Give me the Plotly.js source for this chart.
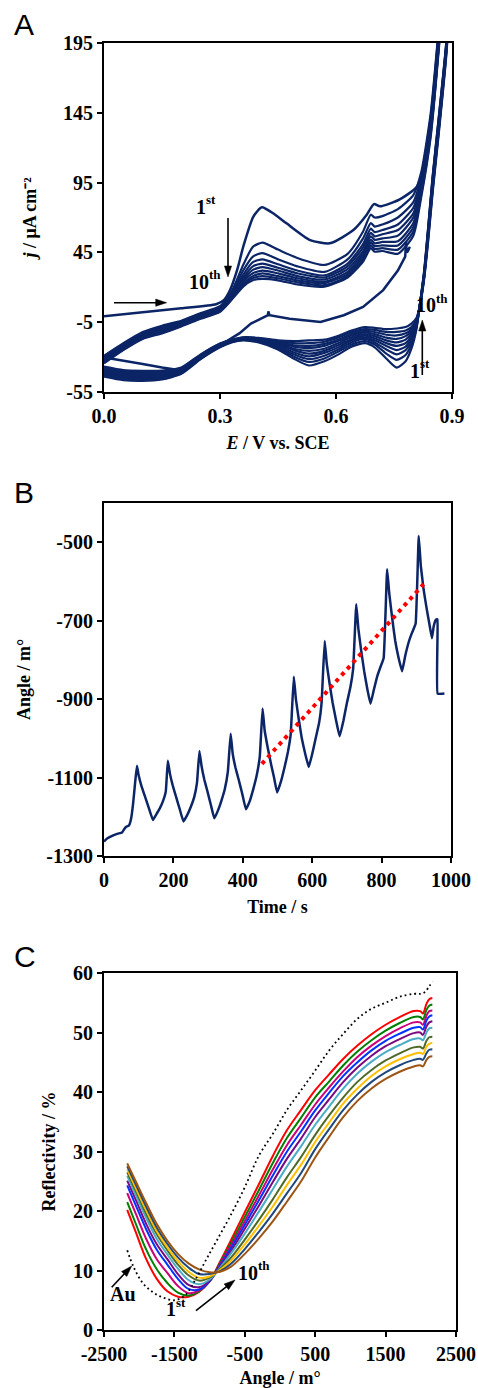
<!DOCTYPE html>
<html><head><meta charset="utf-8">
<script src="https://cdn.plot.ly/plotly-3.0.1.min.js"></script>
<style>html,body{margin:0;padding:0;background:#fff}#chart{width:478px;height:1388px}</style>
</head><body><div id="chart"></div>
<script>
// ---------- Panel A : cyclic voltammograms ----------
const cv1E = [0,0.1,0.2,0.29,0.31,0.326,0.345,0.36,0.386,0.408,0.44,0.472,0.533,0.584,0.645,0.679,0.698,0.714,0.765,0.809,0.83,0.85,0.866,0.88];
const cv1J = [-0.7,2.2,5.0,7.9,10.8,18,33,49,70.5,77.3,72.5,65.8,53.8,51.5,61,71.8,79.6,78,83,92,110,145,195,235];

const anodicE = [0,0.05,0.1,0.15,0.2,0.25,0.3,0.33,0.36,0.385,0.41,0.45,0.5,0.57,0.63,0.67,0.69,0.70,0.72,0.76,0.8,0.82,0.845,0.87];
const anodicJ = [
 [-29,-20,-12,-7.5,-4,1.5,6.5,17,36,49,52,47,41,36,44,60,72,70,71,76,86,102,145,220],
 [-30,-21,-13,-8.2,-4.5,1,6,15.5,32,42,44.5,40,35,31,40,55,66,63.5,65,70,81,99,142,218],
 [-31,-22,-14,-8.9,-5,0.5,5.5,14.5,29,38,40,36.5,32,28.5,37,51,62,59.5,61,65,77,96,140,216],
 [-32,-22.5,-14.5,-9.6,-5.5,0,5,13.5,27,35,37,34,30,27,35,48.5,59,56.5,58,61,73,94,138,214],
 [-32.5,-23,-15,-10.3,-6,-0.5,4.5,13,25.5,32.5,34.5,32,28,25.5,33,46,56.5,54,55,57,70,92,136,212],
 [-33,-23.5,-15.5,-11,-6.5,-1,4,12.5,24,30,32,30,26.5,24,31,44,54,51.5,52.5,53,66,90,134,210],
 [-33.5,-24,-16,-11.7,-7,-1.5,3.5,12,22.5,28,30,28,25,23,29.5,42,52,49.5,50,50,63,88,132,208],
 [-34,-24.5,-16.5,-12.4,-7.5,-2,3,11.5,21.5,26.5,28,26.5,23.5,21.5,28,40,50,47.5,48,47,60,86,130,206],
 [-34.5,-25,-17,-13,-8,-2.5,2.5,11,20.5,25,26,25,22,20.5,27,38.5,48,45.5,46,44,57,84,128,204]
];

const cathodicE = [0.9,0.885,0.865,0.85,0.838,0.828,0.818,0.808,0.795,0.78,0.757,0.73,0.70,0.675,0.64,0.61,0.57,0.53,0.49,0.45,0.40,0.36,0.33,0.30,0.25,0.20,0.15,0.10,0.05,0];
const cathodicJ = [
 [260,195,140,100,62,32,10,-10,-24,-33,-37.5,-31,-23,-20,-22.5,-27.5,-33,-36,-31,-24.5,-19.5,-18,-19.5,-23,-31.5,-42,-46,-47,-46.5,-44],
 [259,194,139,99,61,31,10,-9,-21,-28.5,-32,-27.5,-21,-18.5,-21,-25.5,-31,-33.5,-29.5,-23.5,-19,-17.6,-19.2,-22.6,-31,-41.5,-45.3,-46.2,-45.7,-43.2],
 [258,193,138,98,60,30,10,-8,-18.5,-25,-28,-24.5,-19.5,-17,-19.5,-24,-29,-31.5,-28,-22.5,-18.5,-17.3,-19,-22.2,-30.5,-41,-44.6,-45.4,-44.9,-42.4],
 [257,192,136,96,59,30,9.5,-7,-16.5,-22.5,-25,-22,-18,-15.8,-18,-22.5,-27,-29.5,-26.5,-21.5,-18,-17,-18.8,-21.8,-30,-40.5,-43.9,-44.6,-44.1,-41.6],
 [256,191,135,95,58,29,9.5,-6.5,-15,-20,-22,-20,-16.5,-14.6,-17,-21,-25.5,-27.5,-25,-20.5,-17.5,-16.8,-18.6,-21.5,-29.6,-40,-43.2,-43.8,-43.3,-40.8],
 [255,190,134,94,57,28.5,9,-6,-13,-17.5,-19.5,-18,-15,-13.5,-15.8,-19.5,-24,-25.5,-24,-20,-17.2,-16.6,-18.4,-21.2,-29.3,-39.5,-42.5,-43,-42.5,-40],
 [254,189,132,92,56,28,9,-5,-11.5,-15,-17,-16,-13.5,-12.3,-14.5,-18,-22,-23.5,-22.5,-19.5,-17,-16.4,-18.2,-21,-29,-39,-41.8,-42.2,-41.7,-39.2],
 [253,188,131,91,55,27.5,8.5,-4,-10,-13,-14.5,-14,-12,-11.2,-13.5,-17,-20.5,-22,-21.5,-19,-16.8,-16.2,-18,-20.8,-28.7,-38.5,-41.1,-41.4,-40.9,-38.4],
 [252,187,130,90,54,27,8.5,-3,-8.5,-11,-12,-12,-10.5,-10,-12.3,-15.5,-19,-20,-20,-18.5,-16.5,-16,-17.8,-20.5,-28.4,-38,-40.4,-40.6,-40.1,-37.6],
 [250,185,128,88,52,26,8,-2,-6,-8.5,-9.5,-10,-9,-8.5,-11,-14.3,-17.5,-18,-18.5,-18,-16.2,-15.8,-17.6,-20.2,-28,-37.5,-39.7,-39.8,-39.3,-36.8]
];

const lastE = [0.005,0.05,0.1,0.15,0.197,0.225,0.25,0.3,0.35,0.38,0.41,0.424,0.425,0.428,0.48,0.56,0.62,0.67,0.722,0.76,0.779,0.781,0.783,0.786,0.791];
const lastJ = [-30.5,-32.5,-35,-37.5,-39.4,-36,-30,-21.5,-13,-6,-1.5,0,2.8,0,-2.5,-4.8,0,6,18,32,42,52.5,45,46,49];

const tickEvals = [0,0.3,0.6,0.9];
const tickEtext = ['0.0','0.3','0.6','0.9'];
const tickJvals = [-55,-5,45,95,145,195];
const tickJtext = ['-55','-5','45','95','145','195'];

// ---------- Panel B : SPR angle vs time ----------
const timeB = [0,10,25,40,52,58,63,72,78,84,90,95,100,108,118,130,141,
 150,160,170,178,184,190,198,208,218,229,
 240,250,260,268,275,281,289,298,308,318,
 328,338,348,357,365,371,379,388,398,409,
 420,430,440,449,457,463,471,480,490,499,
 510,520,530,538,547,553,561,570,580,590,
 600,610,620,627,636,642,650,659,669,679,
 690,700,710,718,727,733,741,750,759,768,
 778,788,798,806,816,822,830,839,849,859,
 868,878,888,898,907,913,921,930,938,945,
 950,955,958,961,961.5,981];
const angleB = [-1263,-1255,-1248,-1243,-1240,-1232,-1226,-1222,-1205,-1165,-1110,-1070,-1095,-1122,-1148,-1180,-1208,
 -1195,-1180,-1160,-1136,-1057,-1090,-1120,-1150,-1180,-1212,
 -1195,-1175,-1150,-1113,-1032,-1070,-1105,-1135,-1170,-1204,
 -1185,-1160,-1130,-1084,-988,-1040,-1075,-1105,-1140,-1181,
 -1160,-1130,-1095,-1046,-924,-980,-1020,-1060,-1100,-1138,
 -1110,-1075,-1035,-990,-843,-900,-950,-1000,-1040,-1073,
 -1040,-1000,-960,-910,-752,-810,-860,-910,-955,-995,
 -955,-910,-870,-823,-658,-720,-775,-830,-875,-912,
 -875,-840,-815,-795,-569,-630,-690,-750,-795,-829,
 -790,-755,-730,-708,-484,-560,-620,-670,-710,-745,
 -715,-700,-697,-697,-886,-886];
const trendT = [455,921];
const trendA = [-1065,-607];
const tickTvals = [0,200,400,600,800,1000];
const tickTtext = ['0','200','400','600','800','1000'];
const tickBvals = [-1300,-1100,-900,-700,-500];
const tickBtext = ['-1300','-1100','-900','-700','-500'];

// ---------- Panel C : SPR curves ----------
const angleC = [-2170,-2050,-1900,-1750,-1600,-1450,-1300,-1150,-1000,-850,-700,-500,-300,-100,100,300,500,700,900,1100,1300,1500,1700,1900,1990,2030,2080,2120,2164];
const refl1  = [20.2,16.5,11.9,8.6,6.5,5.6,5.6,6.4,8.2,11.5,15.0,19.8,24.5,29.3,33.6,37.0,40.3,43.0,45.6,47.8,49.7,51.3,52.6,53.6,53.6,53.2,54.8,55.6,55.8];
const refl2  = [21.5,17.9,13.5,10.2,7.9,6.3,5.8,6.5,8.2,11.3,14.5,19.0,23.5,28.1,32.3,35.7,39.1,41.8,44.5,46.8,48.7,50.3,51.6,52.6,52.6,52.2,53.8,54.5,54.7];
const refl3  = [23.0,19.6,15.3,11.9,9.6,7.4,6.2,6.6,8.2,11.1,14.1,18.3,22.6,27.0,31.1,34.5,37.9,40.8,43.5,45.9,47.8,49.4,50.7,51.7,51.7,51.3,52.8,53.6,53.7];
const refl4  = [24.3,21.0,16.9,13.5,11.0,8.6,6.9,6.8,8.2,10.9,13.7,17.7,21.8,26.0,30.0,33.4,36.9,39.9,42.7,45.0,47.0,48.6,49.8,50.8,50.9,50.5,52.0,52.7,52.9];
const refl5  = [25.1,21.9,17.8,14.4,11.9,9.4,7.6,7.2,8.3,10.7,13.2,17.0,20.9,24.9,28.8,32.2,35.8,38.8,41.7,44.1,46.1,47.7,48.9,49.9,50.0,49.6,51.0,51.7,51.9];
const refl6  = [25.9,22.7,18.8,15.3,12.7,10.3,8.4,7.7,8.5,10.5,12.8,16.2,19.9,23.7,27.5,30.9,34.5,37.6,40.6,43.1,45.1,46.7,47.9,48.9,49.0,48.7,50.0,50.7,50.8];
const refl7  = [26.5,23.4,19.5,16.1,13.4,11.0,9.2,8.3,8.8,10.3,12.1,15.2,18.5,22.0,25.7,29.1,32.8,36.1,39.1,41.7,43.7,45.3,46.5,47.5,47.6,47.3,48.6,49.2,49.3];
const refl8  = [27.0,23.9,20.1,16.6,13.9,11.6,9.8,8.8,9.0,10.1,11.6,14.4,17.5,20.8,24.4,27.8,31.6,34.9,38.1,40.6,42.7,44.3,45.5,46.4,46.6,46.4,47.6,48.1,48.3];
const refl9  = [27.5,24.5,20.7,17.2,14.5,12.2,10.5,9.4,9.4,9.9,11.1,13.6,16.5,19.6,23.0,26.4,30.4,33.8,37.0,39.6,41.7,43.3,44.5,45.4,45.6,45.4,46.5,47.1,47.2];
const refl10 = [28.0,25.0,21.3,17.8,15.0,12.8,11.2,10.2,9.7,9.8,10.6,12.8,15.4,18.3,21.6,25.0,29.0,32.5,35.8,38.5,40.6,42.2,43.4,44.3,44.5,44.3,45.4,45.9,46.0];
const reflSeries = [refl1,refl2,refl3,refl4,refl5,refl6,refl7,refl8,refl9,refl10];
const reflColors = ['#ff0000','#008000','#cc0077','#0033ff','#7a0a80','#4bacc6','#4f6a28','#ffc000','#1f497d','#9c5515'];
const auAngle = [-2170,-2080,-1950,-1800,-1650,-1500,-1350,-1200,-1050,-900,-700,-500,-300,-100,100,300,500,700,900,1100,1300,1500,1700,1900,2000,2060,2120,2170];
const auRefl  = [13.4,10.6,7.9,6.3,5.4,5.0,5.8,8.5,11.8,15.0,19.3,24.0,29.3,33.0,37.0,40.3,43.6,47.0,49.8,52.3,54.0,55.0,56.0,56.5,56.5,56.8,57.8,58.5];
const tickCxvals = [-2500,-1500,-500,500,1500,2500];
const tickCxtext = ['-2500','-1500','-500','500','1500','2500'];
const tickCyvals = [0,10,20,30,40,50,60];
const tickCytext = ['0','10','20','30','40','50','60'];

// ---------- build ----------
const W = 478, H = 1388;
const serif = '"Liberation Serif", "Times New Roman", Times, serif';
const sans = '"Liberation Sans", Arial, Helvetica, sans-serif';
const navy = '#0b2566';
const traces = [];

traces.push({x:cv1E, y:cv1J, xaxis:'x', yaxis:'y', mode:'lines', line:{color:navy, width:2.5, shape:'spline', smoothing:0.6}, hoverinfo:'skip'});
anodicJ.forEach(j => traces.push({x:anodicE, y:j, xaxis:'x', yaxis:'y', mode:'lines', line:{color:navy, width:2.2, shape:'spline', smoothing:0.6}, hoverinfo:'skip'}));
cathodicJ.forEach(j => traces.push({x:cathodicE, y:j, xaxis:'x', yaxis:'y', mode:'lines', line:{color:navy, width:2.2, shape:'spline', smoothing:0.6}, hoverinfo:'skip'}));
traces.push({x:lastE, y:lastJ, xaxis:'x', yaxis:'y', mode:'lines', line:{color:navy, width:2.5}, hoverinfo:'skip'});

traces.push({x:timeB, y:angleB, xaxis:'x2', yaxis:'y2', mode:'lines', line:{color:navy, width:2.5, shape:'spline', smoothing:0.3}, hoverinfo:'skip'});
traces.push({x:trendT, y:trendA, xaxis:'x2', yaxis:'y2', mode:'lines', line:{color:'#ff0000', width:4, dash:'4px,4.5px'}, hoverinfo:'skip'});

reflSeries.forEach((r,i) => traces.push({x:angleC, y:r, xaxis:'x3', yaxis:'y3', mode:'lines', line:{color:reflColors[i], width:2, shape:'spline', smoothing:1}, hoverinfo:'skip'}));
traces.push({x:auAngle, y:auRefl, xaxis:'x3', yaxis:'y3', mode:'lines', line:{color:'#000', width:1.8, dash:'1.8px,3px', shape:'spline', smoothing:1}, hoverinfo:'skip'});

const tickFont = {family:serif, size:20, color:'#000', weight:'bold'};
const titleFont = {family:serif, size:18, color:'#000', weight:'bold'};
function ax(extra){
  return Object.assign({
    showline:true, mirror:true, linecolor:'#000', linewidth:2,
    ticks:'outside', ticklen:5, tickwidth:2, tickcolor:'#000',
    showgrid:false, zeroline:false, fixedrange:true, tickmode:'array',
    tickfont:tickFont, automargin:false
  }, extra);
}

const annFont = {family:serif, size:20, color:'#000', weight:'bold'};
const supFont = {family:serif, size:13, color:'#000', weight:'bold'};
const annotations = [];
function letter(x, y, t){ annotations.push({xref:'paper', yref:'paper', x:x/W, y:1-y/H, text:t, showarrow:false, xanchor:'left', yanchor:'top', font:{family:sans, size:30, color:'#000'}}); }
// ordinal label: main digits + raised suffix as its own text (pixel positions -> paper)
function ordinal(base, suffix, rightX, midY, supMidY){
  annotations.push({xref:'paper', yref:'paper', x:rightX/W, y:1-midY/H, text:base, showarrow:false, xanchor:'right', yanchor:'middle', font:annFont, borderpad:0});
  annotations.push({xref:'paper', yref:'paper', x:(rightX-2)/W, y:1-supMidY/H, text:suffix, showarrow:false, xanchor:'left', yanchor:'middle', font:supFont, borderpad:0});
}
letter(12, 6, 'A'); letter(12, 474, 'B'); letter(12, 938, 'C');
ordinal('1', 'st', 206.5, 207, 200);
ordinal('10', 'th', 209.5, 281.5, 275);
ordinal('10', 'th', 436.7, 305, 298.5);
ordinal('1', 'st', 421, 371, 363.5);
ordinal('1', 'st', 176.5, 1309, 1302);
ordinal('10', 'th', 258.5, 1272.5, 1265.5);
annotations.push({xref:'paper', yref:'paper', x:122.5/W, y:1-1294/H, text:'Au', showarrow:false, xanchor:'center', yanchor:'middle', font:annFont, borderpad:0});

// arrows drawn as shapes (pixel positions converted to paper fractions)
const shapes = [];
function arrow(tx, ty, hx, hy){
  const dx = hx - tx, dy = hy - ty, L = Math.hypot(dx, dy);
  const ux = dx / L, uy = dy / L, hl = 11, hw = 3.6;
  const bx = hx - ux * hl, by = hy - uy * hl;
  const px = p => p / W, py = p => 1 - p / H;
  shapes.push({type:'line', xref:'paper', yref:'paper', x0:px(tx), y0:py(ty), x1:px(bx + ux), y1:py(by + uy), line:{color:'#000', width:1.6}});
  const p1 = [hx, hy], p2 = [bx - uy * hw, by + ux * hw], p3 = [bx + uy * hw, by - ux * hw];
  shapes.push({type:'path', xref:'paper', yref:'paper',
    path:`M ${px(p1[0])} ${py(p1[1])} L ${px(p2[0])} ${py(p2[1])} L ${px(p3[0])} ${py(p3[1])} Z`,
    fillcolor:'#000', line:{color:'#000', width:0.5}});
}
arrow(114, 302.7, 166.7, 302.7);
arrow(228, 218, 228, 277);
arrow(422.3, 375, 422.3, 320);
arrow(111.7, 1287.3, 131.7, 1266);
arrow(196, 1310.7, 235, 1280);

const layout = {
  width:W, height:H, margin:{l:0,r:0,t:0,b:0}, showlegend:false,
  paper_bgcolor:'#fff', plot_bgcolor:'#fff',
  xaxis: ax({domain:[104/W, 452/W], anchor:'y', range:[0,0.9], tickvals:tickEvals, ticktext:tickEtext,
    title:{text:'<i>E</i> / V vs. SCE', font:titleFont, standoff:10}}),
  yaxis: ax({domain:[1-392/H, 1-43/H], anchor:'x', range:[-55,195], tickvals:tickJvals, ticktext:tickJtext,
    title:{text:'<i>j</i> / μA cm⁻²', font:titleFont, standoff:22}}),
  xaxis2: ax({domain:[104/W, 451/W], anchor:'y2', range:[0,1000], tickvals:tickTvals, ticktext:tickTtext,
    title:{text:'Time / s', font:titleFont, standoff:10}}),
  yaxis2: ax({domain:[1-856/H, 1-503/H], anchor:'x2', range:[-1300,-400], tickvals:tickBvals, ticktext:tickBtext,
    title:{text:'Angle / m°', font:titleFont, standoff:11}}),
  xaxis3: ax({domain:[104/W, 456/W], anchor:'y3', range:[-2500,2500], tickvals:tickCxvals, ticktext:tickCxtext,
    title:{text:'Angle / m°', font:titleFont, standoff:10}}),
  yaxis3: ax({domain:[1-1330/H, 1-973/H], anchor:'x3', range:[0,60], tickvals:tickCyvals, ticktext:tickCytext,
    title:{text:'Reflectivity / %', font:titleFont, standoff:13}}),
  shapes: shapes,
  annotations: annotations
};

Plotly.newPlot('chart', traces, layout, {staticPlot:true, displayModeBar:false});
</script></body></html>
